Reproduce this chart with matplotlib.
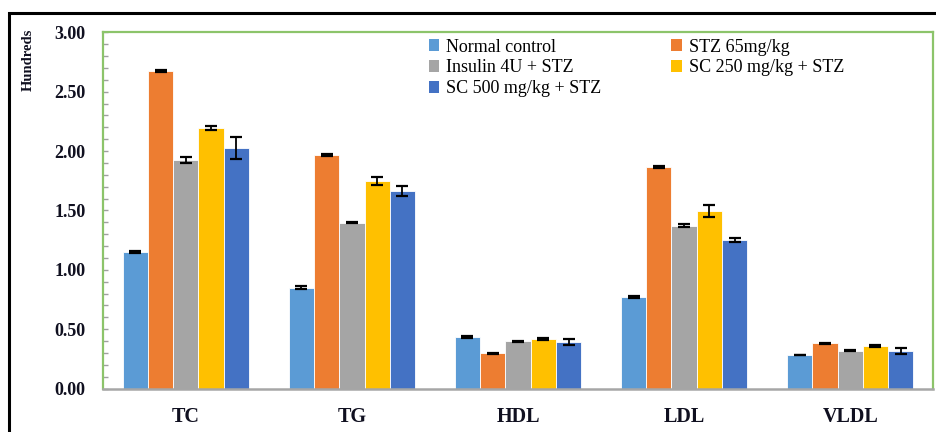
import matplotlib
matplotlib.use("Agg")
import matplotlib.pyplot as plt
import numpy as np
from matplotlib.patches import Rectangle
from matplotlib.ticker import MultipleLocator, FormatStrFormatter

# Lipid profile (values in hundreds of mg/dL)
categories = ["TC", "TG", "HDL", "LDL", "VLDL"]
groups = ["Normal control", "STZ 65mg/kg", "Insulin 4U + STZ",
          "SC 250 mg/kg + STZ", "SC 500 mg/kg + STZ"]

normal_control = [1.15, 0.85, 0.435, 0.77, 0.282]
stz_65 = [2.675, 1.965, 0.297, 1.865, 0.383]
insulin_4u = [1.925, 1.395, 0.398, 1.372, 0.318]
sc_250 = [2.195, 1.748, 0.418, 1.495, 0.357]
sc_500 = [2.025, 1.662, 0.392, 1.252, 0.318]

normal_control_err = [0.006, 0.010, 0.006, 0.006, 0.003]
stz_65_err = [0.006, 0.006, 0.004, 0.006, 0.004]
insulin_4u_err = [0.022, 0.005, 0.006, 0.010, 0.004]
sc_250_err = [0.014, 0.030, 0.008, 0.050, 0.007]
sc_500_err = [0.092, 0.042, 0.022, 0.018, 0.027]

series = [normal_control, stz_65, insulin_4u, sc_250, sc_500]
errors = [normal_control_err, stz_65_err, insulin_4u_err, sc_250_err, sc_500_err]
colors = ["#5B9BD5", "#ED7D31", "#A5A5A5", "#FFC000", "#4472C4"]

serif = ["Liberation Serif", "DejaVu Serif"]
plt.rcParams["font.family"] = serif

fig = plt.figure(figsize=(9.36, 4.32), dpi=100)
W, H = 936, 432

# outer black frame
fig.patches.append(Rectangle((8.5 / W, -0.1), 1.2, (432 - 13.3) / H + 0.1,
                             transform=fig.transFigure, fill=False,
                             edgecolor="black", linewidth=2.2))

ax = fig.add_axes([102.7 / W, 1 - 388.5 / H, (933.3 - 102.7) / W, (388.5 - 32.3) / H])

x = np.arange(len(categories))
bw = 0.152
offsets = (np.arange(len(series)) - 2) * bw
handles = []
for vals, errs, col, off, name in zip(series, errors, colors, offsets, groups):
    b = ax.bar(x + off, vals, bw, color=col, edgecolor="white", linewidth=0.6,
               yerr=errs, label=name,
               error_kw=dict(ecolor="black", elinewidth=1.3, capsize=4.2, capthick=1.6),
               zorder=2)
    handles.append(b)

ax.set_xlim(-0.5, len(categories) - 0.5)
ax.set_ylim(0, 3.0)

ax.yaxis.set_major_locator(MultipleLocator(0.5))
ax.yaxis.set_minor_locator(MultipleLocator(0.1))
ax.yaxis.set_major_formatter(FormatStrFormatter("%.2f"))
ax.tick_params(axis="y", which="both", direction="in", length=3.5, width=1,
               color="#A0A0A0", pad=12.5, labelsize=13, labelcolor="#101020")
for lab in ax.get_yticklabels():
    lab.set_fontweight("bold")

ax.set_xticks(x)
ax.set_xticklabels(categories, fontsize=14.5, fontweight="bold", color="#101020")
ax.tick_params(axis="x", length=0, pad=13.5)

green = "#8CC46A"
for s in ("left", "top", "right"):
    ax.spines[s].set_color(green)
    ax.spines[s].set_linewidth(1.6)
ax.spines["bottom"].set_color("#A6A6A6")
ax.spines["bottom"].set_linewidth(1.8)

fig.text(28 / W, 1 - 60 / H, "Hundreds", rotation=90, ha="center", va="center",
         fontsize=10.5, fontweight="bold", color="#101020")

# legend filled so that rows read left to right
order = [0, 2, 4, 1, 3]
leg = ax.legend([handles[i] for i in order], [groups[i] for i in order],
                ncol=2, frameon=False, loc="upper left",
                bbox_to_anchor=((416 - 102.7) / (933.3 - 102.7), 1.018),
                fontsize=13, handlelength=0.6, handleheight=0.6,
                handletextpad=0.35, labelspacing=0.22, columnspacing=3.9,
                borderpad=0.2)
for h in leg.legend_handles:
    h.set_linewidth(0)

fig.savefig("out.png", dpi=100)
